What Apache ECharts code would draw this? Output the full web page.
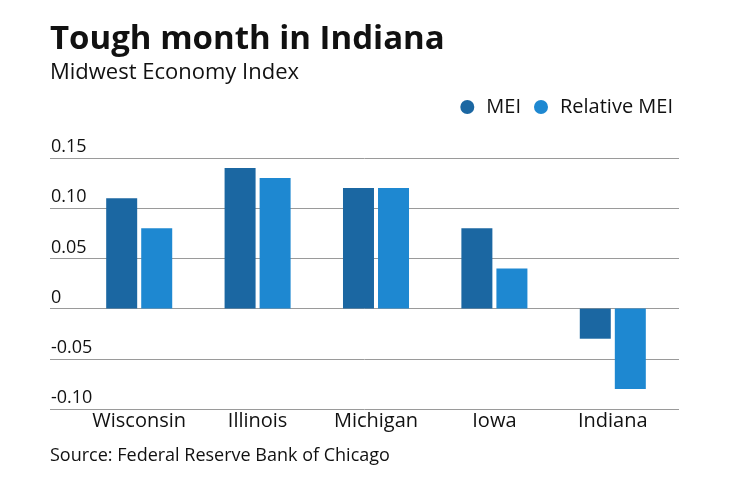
<!DOCTYPE html>
<html>
<head>
<meta charset="utf-8">
<script src="https://cdn.jsdelivr.net/npm/echarts@6/dist/echarts.min.js"></script>
<style>
  html, body { margin: 0; padding: 0; background: #fff; }
  #chart { width: 740px; height: 482px; }
</style>
</head>
<body>
<div id="chart"></div>
<script>
  var states = ['Wisconsin', 'Illinois', 'Michigan', 'Iowa', 'Indiana'];
  var meiValues = [0.11, 0.14, 0.12, 0.08, -0.03];
  var relativeValues = [0.08, 0.13, 0.12, 0.04, -0.08];
  var yMin = -0.10, yMax = 0.15, yStep = 0.05;

  var FONT = '"Open Sans", Lato, sans-serif';
  var chart = echarts.init(document.getElementById('chart'));

  // two grids: one holds the bars, the wider one only draws the gridlines and labels
  chart.setOption({
    animation: false,
    textStyle: { fontFamily: FONT },
    title: [{
      text: 'Tough month in Indiana',
      left: 45, top: 18,
      textStyle: { fontSize: 33, fontWeight: 'bold', color: '#111', fontFamily: FONT }
    }, {
      text: 'Midwest Economy Index',
      left: 45, top: 57,
      textStyle: { fontSize: 22, fontWeight: 'normal', color: '#111', fontFamily: FONT }
    }, {
      text: 'Source: Federal Reserve Bank of Chicago',
      left: 45, top: 442,
      textStyle: { fontSize: 18, fontWeight: 'normal', color: '#111', fontFamily: FONT }
    }],
    legend: {
      right: 62, top: 92,
      icon: 'circle',
      itemWidth: 28, itemHeight: 14,
      itemGap: 13,
      textStyle: { fontSize: 20, color: '#111', fontFamily: FONT }
    },
    grid: [
      { left: 80, right: 68, top: 158, bottom: 73 },
      { left: 50, right: 61, top: 158, bottom: 73 }
    ],
    xAxis: [{
      type: 'category',
      gridIndex: 0,
      data: states,
      axisLine: { show: false },
      axisTick: { show: false },
      axisLabel: { interval: 0, fontSize: 20, color: '#111', margin: 2 }
    }, {
      type: 'category',
      gridIndex: 1,
      data: states,
      show: false
    }],
    yAxis: [{
      type: 'value',
      gridIndex: 0,
      min: yMin, max: yMax, interval: yStep,
      show: false
    }, {
      type: 'value',
      gridIndex: 1,
      min: yMin, max: yMax, interval: yStep,
      axisLine: { show: false },
      axisTick: { show: false },
      splitLine: { lineStyle: { color: '#9a9a9a', width: 1 } },
      axisLabel: {
        inside: true,
        margin: 1,
        verticalAlign: 'bottom',
        padding: [0, 0, 2, 0],
        fontSize: 18,
        color: '#111',
        formatter: function (v) {
          return Math.abs(v) < 1e-9 ? '0' : v.toFixed(2);
        }
      }
    }],
    series: [{
      name: 'MEI',
      type: 'bar',
      xAxisIndex: 0, yAxisIndex: 0,
      data: meiValues,
      barWidth: 31,
      barGap: '13%',
      itemStyle: { color: '#1b67a2' }
    }, {
      name: 'Relative MEI',
      type: 'bar',
      xAxisIndex: 0, yAxisIndex: 0,
      data: relativeValues,
      barWidth: 31,
      barGap: '13%',
      itemStyle: { color: '#1e88d1' }
    }]
  });
</script>
</body>
</html>
